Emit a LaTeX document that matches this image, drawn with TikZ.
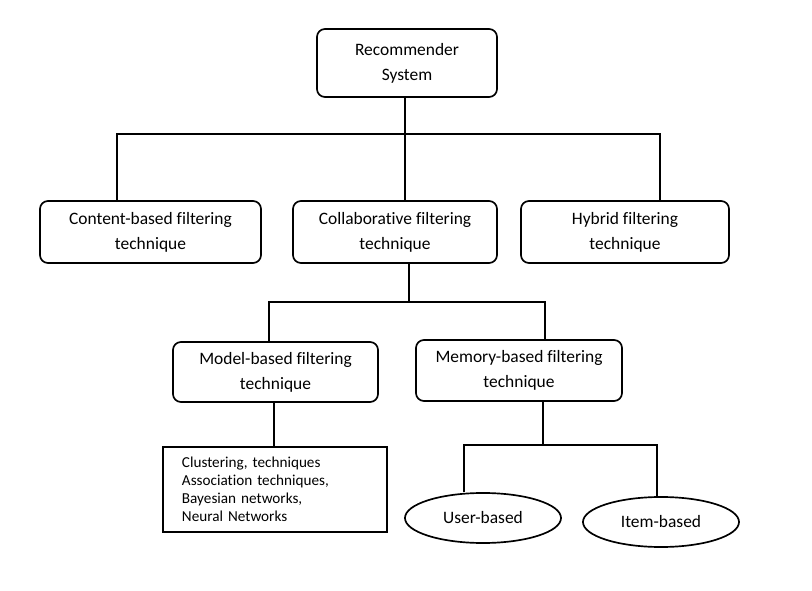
\documentclass[tikz,border=0pt]{standalone}
\usepackage{fontspec}
\setmainfont{Carlito}[Ligatures=NoCommon]
\usetikzlibrary{shapes.geometric}
\tikzset{
	roundbox/.style={draw, line width=1.2pt, rounded corners=0.2cm, align=center, inner sep=0pt, font=\fontsize{12.4}{17.8}\selectfont},
	listbox/.style={draw, line width=1.2pt, align=left, inner xsep=0.475cm, inner ysep=0pt, text width=4.65cm, font=\fontsize{10.8}{12.9}\selectfont},
	ovalbox/.style={draw, ellipse, line width=1.2pt, inner sep=0pt, minimum width=3.9cm, minimum height=1.25cm, font=\fontsize{12.4}{14}\selectfont},
	link/.style={line width=1.2pt}
}

\begin{document}
\begin{tikzpicture}[x=0.025cm, y=-0.025cm]
			%%%%% START %%%%%
			\useasboundingbox (0,0) rectangle (812,591);
			
			\node[roundbox, minimum width=4.5cm, minimum height=1.7cm] (rec) at (407,63) {Recommender\\System};
			
			\node[roundbox, minimum width=5.525cm, minimum height=1.55cm] (content) at (150.5,232) {Content-based filtering\\technique};
			\node[roundbox, minimum width=5.1cm, minimum height=1.55cm] (collab) at (395,232) {Collaborative filtering\\technique};
			\node[roundbox, minimum width=5.2cm, minimum height=1.55cm] (hybrid) at (625,232) {Hybrid filtering\\technique};
			
			\node[roundbox, minimum width=5.125cm, minimum height=1.5cm] (model) at (275.5,372) {Model-based filtering\\technique};
			\node[roundbox, minimum width=5.15cm, minimum height=1.525cm] (memory) at (519,370.5) {Memory-based filtering\\technique};
			
			\node[listbox, minimum height=2.125cm] (list) at (275,489.5) {Clustering, techniques\\Association techniques,\\Bayesian networks,\\Neural Networks};
			
			\node[ovalbox] (user) at (483,518) {User-based};
			\node[ovalbox] (item) at (661,522) {Item-based};
			
			% top level
			\coordinate (j1) at (405,134);
			\coordinate (b1l) at (117,134);
			\coordinate (b1r) at (660,134);
			\draw[link] (rec.south -| j1) -- (collab.north -| j1);
			\draw[link] (content.north -| b1l) -- (b1l) -- (b1r) -- (hybrid.north -| b1r);
			
			% collaborative
			\coordinate (j2) at (409,302);
			\coordinate (b2l) at (269,302);
			\coordinate (b2r) at (545,302);
			\draw[link] (collab.south -| j2) -- (j2);
			\draw[link] (model.north -| b2l) -- (b2l) -- (b2r) -- (memory.north -| b2r);
			
			% model-based
			\coordinate (j3) at (274,447);
			\draw[link] (model.south -| j3) -- (list.north -| j3);
			
			% memory-based
			\coordinate (j4) at (543,445);
			\coordinate (b3l) at (464,445);
			\coordinate (b3r) at (657,445);
			\draw[link] (memory.south -| j4) -- (j4);
			\draw[link] (user.north -| b3l) -- (b3l) -- (b3r) -- (item.north -| b3r);
			%%%%% END %%%%%
\end{tikzpicture}
\end{document}
